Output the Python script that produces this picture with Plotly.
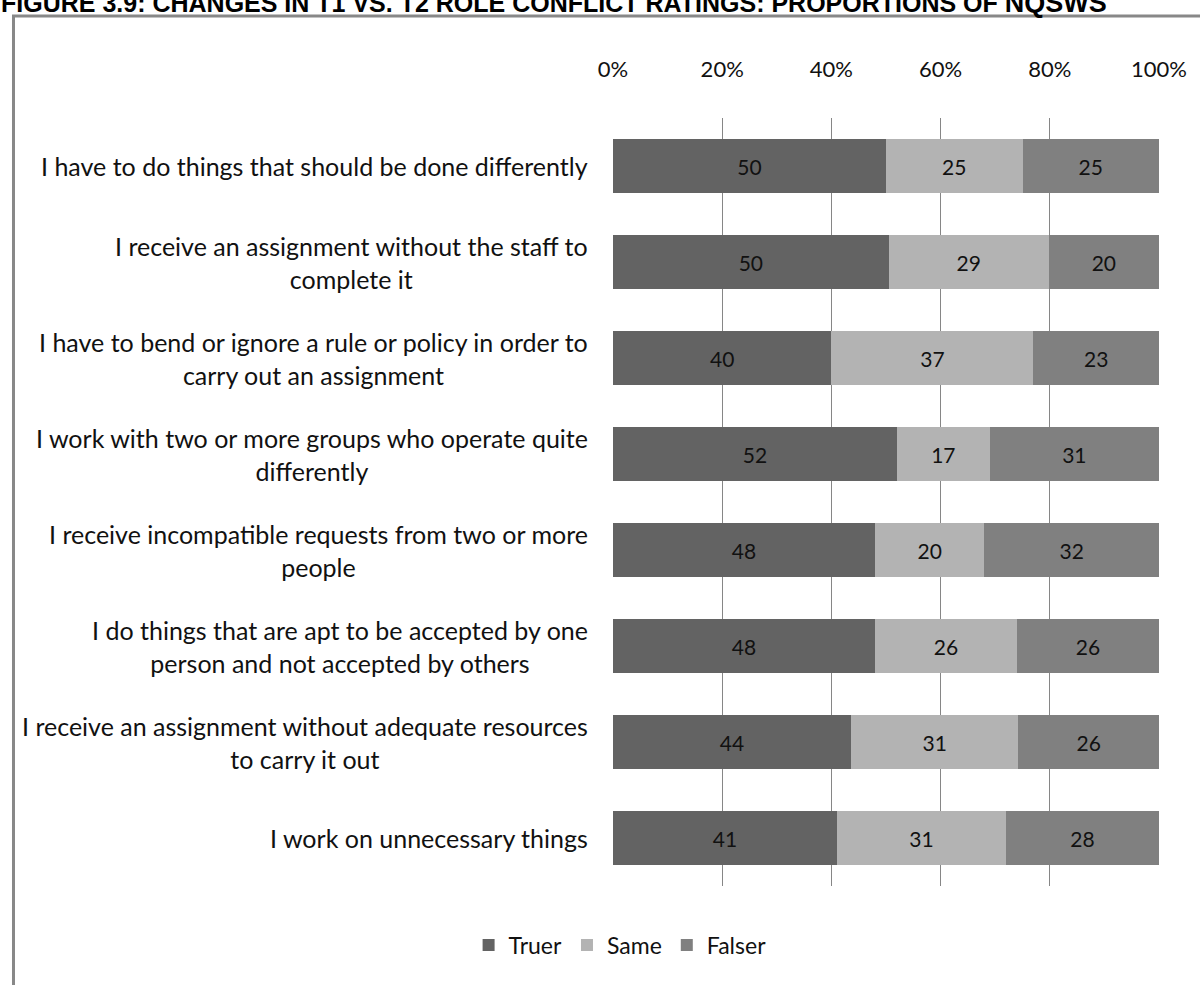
import plotly.graph_objects as go

categories = [
    "I have to do things that should be done differently",
    "I receive an assignment without the staff to<br>complete it",
    "I have to bend or ignore a rule or policy in order to<br>carry out an assignment",
    "I work with two or more groups who operate quite<br>differently",
    "I receive incompatible requests from two or more<br>people",
    "I do things that are apt to be accepted by one<br>person and not accepted by others",
    "I receive an assignment without adequate resources<br>to carry it out",
    "I work on unnecessary things",
]
truer = [50, 50, 40, 52, 48, 48, 44, 41]
same = [25, 29, 37, 17, 20, 26, 31, 31]
falser = [25, 20, 23, 31, 32, 26, 26, 28]
tick_vals = [0, 20, 40, 60, 80, 100]
tick_text = ["0%", "20%", "40%", "60%", "80%", "100%"]

FONT = "Lato"
series = [("Truer", truer, "#636363"), ("Same", same, "#b3b3b3"), ("Falser", falser, "#808080")]
ycats = list(range(len(categories)))

fig = go.Figure()
for name, vals, color in series:
    fig.add_trace(go.Bar(
        name=name, y=ycats, x=vals, orientation="h",
        marker=dict(color=color, line=dict(width=0)),
        text=[str(v) for v in vals], textposition="inside",
        insidetextanchor="middle", textangle=0,
        textfont=dict(family=FONT, size=21, color="#111111"),
    ))

for i, lab in enumerate(categories):
    fig.add_annotation(
        x=-0.043, xref="paper", y=i, yref="y", text=lab,
        xanchor="right", yanchor="middle", align="center", showarrow=False,
        font=dict(family=FONT, size=25, color="#111111"),
    )

# title (top partly cut, as in the reference)
fig.add_annotation(
    x=-1.123, xref="paper", y=1.1705, yref="paper",
    text="<b>FIGURE 3.9: CHANGES IN T1 VS. T2 ROLE CONFLICT RATINGS: PROPORTIONS OF <span style='font-size:27px'>NQSWS</span></b>",
    xanchor="left", yanchor="top", showarrow=False, borderpad=0,
    font=dict(family="Liberation Sans", size=25, color="#000000"),
)

# frame
fig.add_shape(type="rect", xref="paper", yref="paper",
              x0=-1.098, x1=1.2, y0=-0.2, y1=1.1328,
              line=dict(color="#888888", width=3), fillcolor="rgba(0,0,0,0)", layer="below")

fig.update_layout(
    width=1200, height=985,
    margin=dict(l=613, r=41, t=118, b=99),
    paper_bgcolor="white", plot_bgcolor="white",
    barmode="stack", barnorm="percent", bargap=0.44,
    showlegend=True,
    legend=dict(orientation="h", x=0.013, xanchor="center", y=-0.077, yanchor="middle",
                font=dict(family=FONT, size=23, color="#111111"), traceorder="normal",
                itemwidth=30),
    xaxis=dict(range=[0, 100], side="top", tickvals=tick_vals, ticktext=tick_text,
               showgrid=True, gridcolor="#868686", gridwidth=1, zeroline=False,
               showline=False, ticks="", ticklabelstandoff=36,
               tickfont=dict(family=FONT, size=22, color="#111111")),
    yaxis=dict(range=[len(categories) - 0.5, -0.5], showticklabels=False,
               showgrid=False, zeroline=False, showline=False, ticks=""),
)

fig.write_html("out.html", config={"displayModeBar": False},
               post_script="document.body.style.margin='0';")
